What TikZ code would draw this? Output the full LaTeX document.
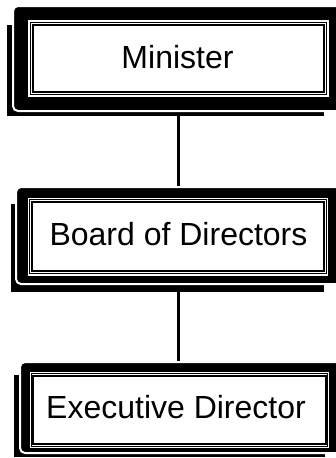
\documentclass[tikz,border=0pt]{standalone}
\usepackage{fontspec}
\setmainfont{Liberation Sans}
\pgfdeclarelayer{back}
\pgfsetlayers{back,main}
\begin{document}
\begin{tikzpicture}[x=1pt,y=-1pt,
  shadowbox/.style={fill=black},
  framebox/.style={fill=black, draw=white, line width=2pt, rounded corners=5pt,
    anchor=north west, inner sep=0pt, outer sep=0pt},
  panel/.style={fill=white},
  thinrule/.style={draw=black, line width=1pt},
  thickrule/.style={draw=black, line width=2pt},
  caption/.style={font=\fontsize{32}{38}\selectfont, anchor=base, inner sep=0pt},
  connector/.style={draw=black, line width=3pt}]
\useasboundingbox (0,0) rectangle (336,458);
\clip (0,0) rectangle (336,458);

% Minister
\fill[shadowbox] (7,25) rectangle (324,116);
\node[framebox, minimum width=330pt, minimum height=105pt] (f1) at (13,6) {};
\fill[panel] (28,20) rectangle (329,97);
\draw[thinrule] (30.5,22.5) rectangle (326.5,94.5);
\draw[thickrule] (33,25) rectangle (324,92);
\node[caption] (t1) at (177.5,68) {Minister};

% Board of Directors
\fill[shadowbox] (11,204) rectangle (324,292);
\node[framebox, minimum width=325pt, minimum height=97pt] (f2) at (16,187) {};
\fill[panel] (27.5,198) rectangle (328,276);
\draw[thinrule] (29.5,199.5) rectangle (326.5,273.5);
\draw[thickrule] (32,202) rectangle (324,271);
\node[caption] (t2) at (178.5,245) {Board of Directors};

% Executive Director
\fill[shadowbox] (14,375) rectangle (325,457);
\node[framebox, minimum width=321pt, minimum height=91pt] (f3) at (20,362) {};
\fill[panel] (29.5,371.5) rectangle (329,447.5);
\draw[thinrule] (31,373) rectangle (327.5,446);
\draw[thickrule] (33,375.5) rectangle (325.5,443.5);
\node[caption] (t3) at (176,418) {Executive Director};

% reporting lines, kept behind the boxes
\coordinate (spine) at (178.5,0);
\begin{pgfonlayer}{back}
  \draw[connector] (f1.south -| spine) -- (f2.north -| spine);
  \draw[connector] (f2.south -| spine) -- (f3.north -| spine);
\end{pgfonlayer}
\end{tikzpicture}
\end{document}
